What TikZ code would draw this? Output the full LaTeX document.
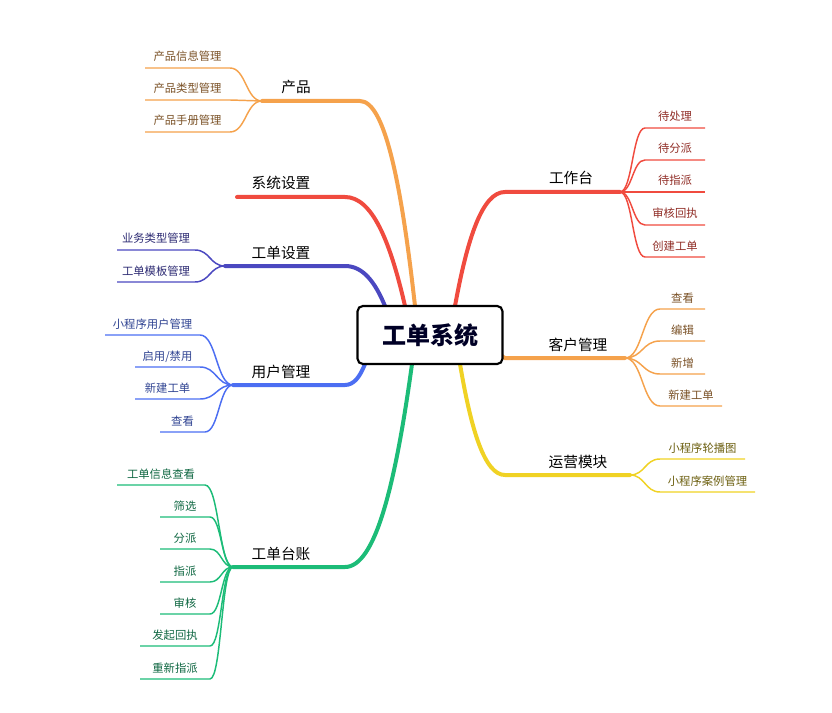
\documentclass[tikz,border=0pt]{standalone}
\usepackage{fontspec}
\setmainfont{Noto Sans CJK SC}
\definecolor{cOr}{HTML}{F5A24C}
\definecolor{cRd}{HTML}{F04B3F}
\definecolor{cPu}{HTML}{4B48C0}
\definecolor{cBl}{HTML}{4C6EF2}
\definecolor{cGr}{HTML}{1CBC78}
\definecolor{cYe}{HTML}{F0D224}
\tikzset{
  br/.style={line width=3pt,line cap=round},
  lf/.style={line width=1.1pt},
  bt/.style={font=\fontsize{11}{13}\selectfont,inner sep=0pt},
  lt/.style={font=\fontsize{8.5}{10}\selectfont,inner sep=0pt},
}
% branch: color, sx, sy, ex, ey(underline y), ux(other end of underline), name, text, textx
\newcommand{\mybranch}[9]{%
  \draw[br,#1] (#2,#3) .. controls ({#2+(#4-#2)*0.25},{#3+(#5-#3)*0.6}) and ({#2+(#4-#2)*0.55},#5) .. (#4,#5) -- (#6,#5);
  \node[bt,anchor=base] (#7) at (#9,{#5-8}) {#8};}
% leaf: color, textcolor, jx, jy, near x, far x, underline y, name, text
\newcommand{\myleaf}[9]{%
  \draw[lf,#1] (#3,#4) .. controls ({(#3+#5)/2},#4) and ({(#3+#5)/2},#7) .. (#5,#7) -- (#6,#7);
  \node[lt,anchor=base,text=#2] (#8) at ({(#5+#6)/2},{#7-7}) {#9};}
\begin{document}
\begin{tikzpicture}[x=0.75pt,y=-0.75pt]
\useasboundingbox (0,0) rectangle (832,713);
% branches
\mybranch{cOr}{415}{306}{360}{101}{262}{b1}{产品}{296}
\mybranch{cRd}{405}{306}{345}{197}{237}{b2}{系统设置}{281}
\mybranch{cPu}{385}{306}{345}{266}{225}{b3}{工单设置}{281}
\mybranch{cBl}{365}{364}{345}{385}{233}{b4}{用户管理}{281}
\mybranch{cGr}{412}{364}{345}{567}{233}{b5}{工单台账}{281}
\mybranch{cRd}{455}{306}{505}{192}{620}{b6}{工作台}{571}
\mybranch{cOr}{500}{352}{505}{358}{625}{b7}{客户管理}{578}
\mybranch{cYe}{460}{364}{505}{475}{630}{b8}{运营模块}{578}
\node[draw=black,line width=1.6pt,rounded corners=4pt,fill=white,minimum width=145*0.75pt,minimum height=58*0.75pt,font=\fontsize{18}{20}\bfseries\selectfont,text=black!85!blue] (c) at (430,335) {工单系统};
% 产品
\foreach \y/\t [count=\i] in {68/产品信息管理,100/产品类型管理,132/产品手册管理}
  {\myleaf{cOr}{cOr!50!black}{262}{101}{230}{145}{\y}{p\i}{\t}}
\foreach \y/\t [count=\i] in {250/业务类型管理,282/工单模板管理}
  {\myleaf{cPu}{cPu!60!black}{225}{266}{195}{117}{\y}{s\i}{\t}}
\myleaf{cBl}{cBl!60!black}{233}{385}{200}{105}{335}{u1}{小程序用户管理}
\myleaf{cBl}{cBl!60!black}{233}{385}{200}{135}{367}{u2}{启用/禁用}
\myleaf{cBl}{cBl!60!black}{233}{385}{200}{135}{399}{u3}{新建工单}
\myleaf{cBl}{cBl!60!black}{233}{385}{205}{160}{432}{u4}{查看}
\myleaf{cGr}{cGr!55!black}{233}{567}{205}{117}{485}{g1}{工单信息查看}
\foreach \y/\t [count=\i] in {517/筛选,549/分派,582/指派,614/审核}
  {\myleaf{cGr}{cGr!55!black}{233}{567}{210}{160}{\y}{gg\i}{\t}}
\myleaf{cGr}{cGr!55!black}{233}{567}{210}{140}{646}{g6}{发起回执}
\myleaf{cGr}{cGr!55!black}{233}{567}{210}{140}{679}{g7}{重新指派}
\foreach \y/\t [count=\i] in {128/待处理,160/待分派,192/待指派,225/审核回执,257/创建工单}
  {\myleaf{cRd}{cRd!60!black}{620}{192}{645}{705}{\y}{w\i}{\t}}
\foreach \y/\t [count=\i] in {309/查看,341/编辑,374/新增}
  {\myleaf{cOr}{cOr!50!black}{625}{358}{660}{705}{\y}{k\i}{\t}}
\myleaf{cOr}{cOr!50!black}{625}{358}{660}{722}{406}{k4}{新建工单}
\myleaf{cYe}{cYe!45!black}{630}{475}{660}{745}{459}{y1}{小程序轮播图}
\myleaf{cYe}{cYe!45!black}{630}{475}{660}{755}{492}{y2}{小程序案例管理}
\end{tikzpicture}
\end{document}
